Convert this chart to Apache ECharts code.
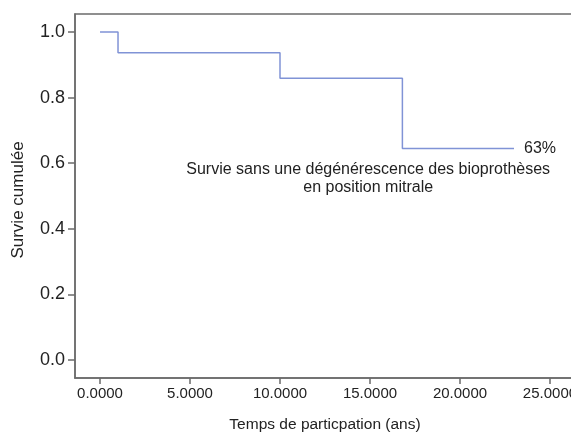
<!DOCTYPE html>
<html>
<head>
<meta charset="utf-8">
<script src="https://cdn.jsdelivr.net/npm/echarts@6/dist/echarts.min.js"></script>
<style>html,body{margin:0;padding:0;background:#fff;}#c{width:571px;height:432px;}</style>
</head>
<body>
<div id="c"></div>
<script>
// Kaplan-Meier step data (time in years, cumulative survival)
const times = [0, 1.0, 10.0, 16.8, 23.0];
const survival = [1.0, 0.937, 0.859, 0.645, 0.645];
const xTicks = [0, 5, 10, 15, 20, 25];
const yTicks = [0, 0.2, 0.4, 0.6, 0.8, 1.0];
const endLabel = '63%';
const curveName = 'Survie sans une dégénérescence des bioprothèses\nen position mitrale';
const xTitle = 'Temps de particpation (ans)';
const yTitle = 'Survie cumulée';

const font = 'Liberation Sans, Arial, Helvetica, sans-serif';
const data = times.map((t, i) => [t, survival[i]]);
const chart = echarts.init(document.getElementById('c'), null, {renderer: 'canvas'});
chart.setOption({
  animation: false,
  backgroundColor: '#fff',
  grid: {left: 75, top: 14, width: 500, height: 364, show: true, borderColor: '#6b6b6b', borderWidth: 1.5, containLabel: false, outerBoundsMode: 'none'},
  xAxis: {
    type: 'value', min: -1.39, max: 26.39,
    name: xTitle, nameLocation: 'middle', nameGap: 39,
    nameTextStyle: {fontFamily: font, fontSize: 15.5, color: '#222'},
    axisLine: {show: true, onZero: false, lineStyle: {color: '#6b6b6b', width: 1.5}},
    axisTick: {show: true, inside: false, length: 6, customValues: xTicks, lineStyle: {color: '#6b6b6b', width: 1.5}},
    axisLabel: {customValues: xTicks, formatter: v => v.toFixed(4), fontFamily: font, fontSize: 15, color: '#222', margin: 8},
    splitLine: {show: false}
  },
  yAxis: {
    type: 'value', min: -0.0549, max: 1.0549,
    name: yTitle, nameLocation: 'middle', nameGap: 48, nameRotate: 90,
    nameTextStyle: {fontFamily: font, fontSize: 17, color: '#222', padding: [0, 8, 0, 0]},
    axisLine: {show: true, onZero: false, lineStyle: {color: '#6b6b6b', width: 1.5}},
    axisTick: {show: true, inside: false, length: 7, customValues: yTicks, lineStyle: {color: '#6b6b6b', width: 1.5}},
    axisLabel: {customValues: yTicks, formatter: v => v.toFixed(1), fontFamily: font, fontSize: 18, color: '#222', margin: 10},
    splitLine: {show: false}
  },
  series: [{
    type: 'line', step: 'end', data: data, symbol: 'none',
    lineStyle: {color: '#8093d6', width: 1.5},
    endLabel: {show: true, formatter: endLabel, fontFamily: font, fontSize: 16, color: '#222', distance: 10},
    markPoint: {
      symbol: 'circle', symbolSize: 0,
      data: [{coord: [14.9, 0.553], value: 0}],
      label: {show: true, position: 'inside', formatter: curveName, fontFamily: font, fontSize: 16, color: '#222', lineHeight: 18, align: 'center'}
    }
  }]
});
</script>
</body>
</html>
